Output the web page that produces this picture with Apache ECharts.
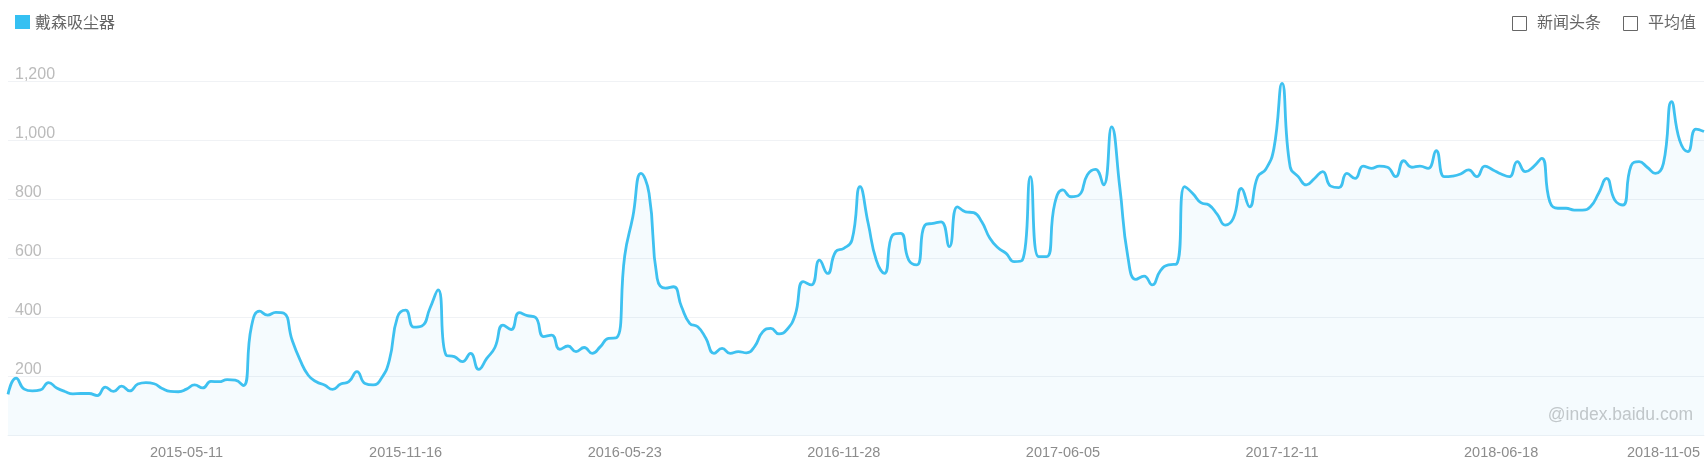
<!DOCTYPE html>
<html>
<head>
<meta charset="utf-8">
<script src="https://cdn.jsdelivr.net/npm/echarts@6/dist/echarts.min.js"></script>
<style>
html,body{margin:0;padding:0;background:#fff;}
#chart{width:1708px;height:463px;}
</style>
</head>
<body>
<div id="chart"></div>
<script>
// Weekly categories (Mondays), starting 2014-12-08
var startDate = '2014-12-08';
var pointCount = 210;
// Tick labels shown on the x axis
var tickLabels = ['2015-05-11','2015-11-16','2016-05-23','2016-11-28','2017-06-05','2017-12-11','2018-06-18','2018-11-05'];
var seriesName = '戴森吸尘器';
var values = [
140,195,158,152,155,180,162,150,142,143,
143,136,165,150,168,152,175,180,176,160,
150,149,158,172,162,184,183,190,188,170,
370,422,409,418,415,325,256,205,183,172,
157,175,183,217,177,172,194,256,403,426,
368,372,432,494,273,268,251,279,225,262,
299,375,360,417,407,401,336,341,293,304,
285,299,279,302,330,332,610,742,889,821,
533,500,505,437,381,369,330,279,296,279,
285,281,302,352,364,345,360,409,522,511,
595,550,624,635,663,844,720,595,550,680,
686,595,579,714,720,725,641,776,759,756,
725,669,637,618,590,595,878,607,607,788,
833,810,816,884,903,850,1047,844,607,530,
541,511,559,579,582,844,821,790,782,751,
714,737,838,776,878,903,974,1194,912,878,
850,872,895,846,841,889,872,914,906,914,
910,878,932,910,914,906,966,878,880,887,
901,878,914,901,887,878,929,895,912,940,
793,771,771,765,765,776,821,872,799,782,
914,929,910,889,923,1132,1001,963,1039,1031
];
var checkItems = ['新闻头条','平均值'];

function pad(n){return n<10?'0'+n:''+n;}
var categories = [];
(function(){
  var p = startDate.split('-');
  var d = new Date(Date.UTC(+p[0], +p[1]-1, +p[2]));
  for (var i=0;i<pointCount;i++){
    categories.push(d.getUTCFullYear()+'-'+pad(d.getUTCMonth()+1)+'-'+pad(d.getUTCDate()));
    d = new Date(d.getTime()+7*86400000);
  }
})();

var chart = echarts.init(document.getElementById('chart'));
var font = "'Liberation Sans','Noto Sans CJK SC',sans-serif";
var cjk = "'Noto Sans CJK SC',sans-serif";
chart.setOption({
  animation:false,
  backgroundColor:'#fff',
  legend:{
    left:10, top:9, padding:5,
    icon:'rect', itemWidth:15, itemHeight:14, itemGap:10,
    textStyle:{color:'#666', fontSize:16, fontFamily:cjk},
    data:[seriesName]
  },
  grid:{left:8, right:4, top:81.7, bottom:27.3, containLabel:false},
  xAxis:{
    type:'category',
    boundaryGap:false,
    data:categories,
    axisLine:{show:true, lineStyle:{color:'#f0f3f6'}},
    axisTick:{show:false},
    axisLabel:{
      color:'#8c8c8c', fontSize:14.5, fontFamily:font, margin:10,
      interval:function(idx, val){ return tickLabels.indexOf(val) >= 0; }
    },
    splitLine:{show:false}
  },
  yAxis:{
    type:'value',
    min:0, max:1200, interval:200,
    axisLine:{show:false},
    axisTick:{show:false},
    axisLabel:{
      inside:true, color:'#bbb', fontSize:16, fontFamily:font,
      margin:7, verticalAlign:'bottom', padding:[0,0,-1,0],
      showMinLabel:false
    },
    splitLine:{lineStyle:{color:'#f0f2f5', width:1}}
  },
  graphic:[
    {type:'rect', left:1512, top:16, shape:{width:14, height:14}, style:{fill:'#fff', stroke:'#666', lineWidth:1}},
    {type:'text', left:1537, top:14, style:{text:checkItems[0], fill:'#666', font:'16px '+cjk}},
    {type:'rect', left:1623, top:16, shape:{width:14, height:14}, style:{fill:'#fff', stroke:'#666', lineWidth:1}},
    {type:'text', left:1648, top:14, style:{text:checkItems[1], fill:'#666', font:'16px '+cjk}},
    {type:'text', right:15, top:406, style:{text:'@index.baidu.com', fill:'#c8c8c8', font:'17.5px '+font}}
  ],
  series:[{
    name:seriesName,
    type:'line',
    data:values,
    smooth:true,
    symbol:'none',
    itemStyle:{color:'#35c0f2'},
    lineStyle:{color:'#3ec1f0', width:2.8},
    areaStyle:{color:'rgba(64,190,240,0.08)'}
  }]
});
</script>
</body>
</html>
